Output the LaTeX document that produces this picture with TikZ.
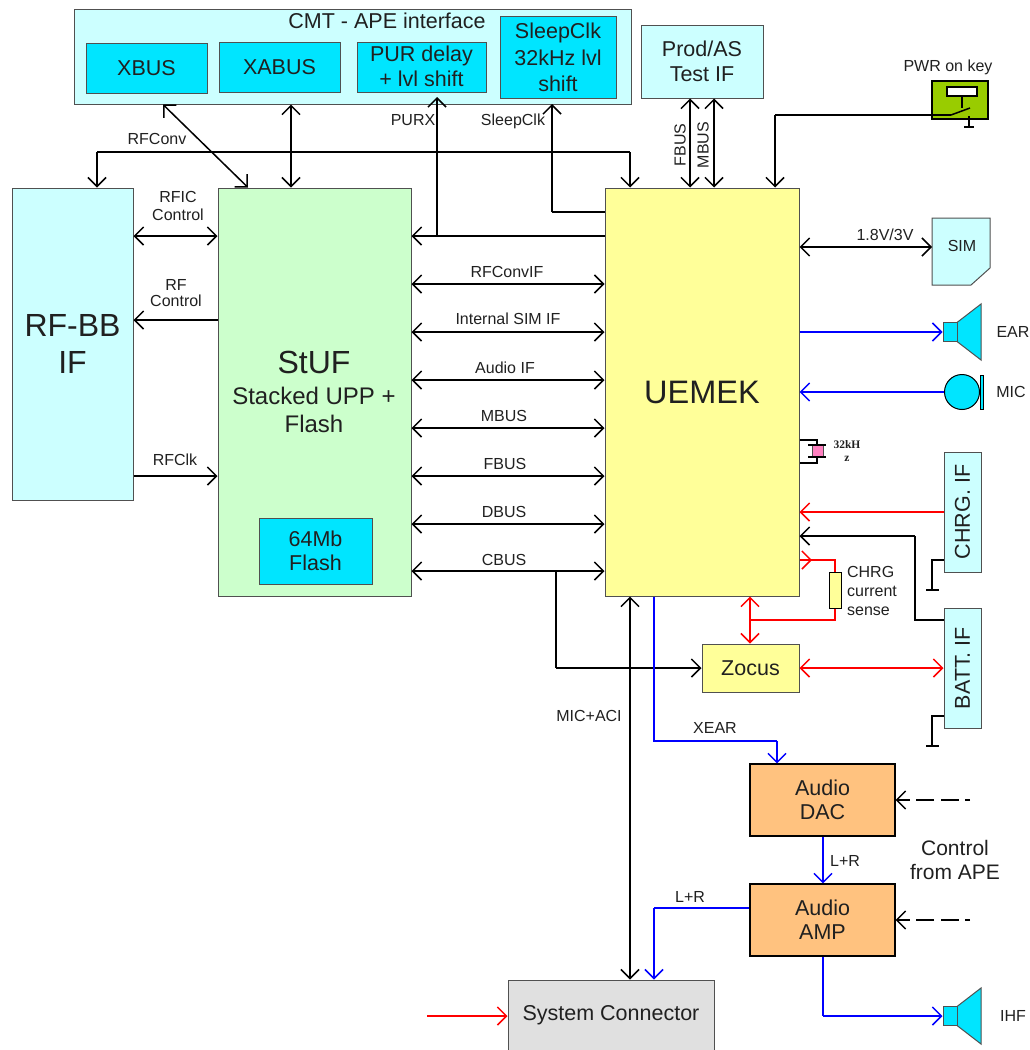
\documentclass[tikz,border=0pt]{standalone}
\usepackage{fontspec}
\setmainfont{Liberation Sans}
\usetikzlibrary{arrows.meta,calc}
\definecolor{paleC}{HTML}{CCFFFF}
\definecolor{cyanB}{HTML}{00E5FF}
\definecolor{paleG}{HTML}{CCFFCC}
\definecolor{paleY}{HTML}{FFFF99}
\definecolor{orng}{HTML}{FFC27F}
\definecolor{greyB}{HTML}{E0E0E0}
\definecolor{keyG}{HTML}{99CC00}
\definecolor{bord}{HTML}{505050}
\definecolor{pinkB}{HTML}{FF80C0}
\definecolor{txt}{HTML}{202020}
\newcommand{\fs}[1]{\fontsize{#1}{\fpeval{1.17*#1}}\selectfont}
\tikzset{
  x=1pt,y=-1pt,
  tipa/.tip={Straight Barb[length=9pt,width=18pt,line width=1.5pt]},
  wire/.style={line width=1.5pt,black,arrows={-},line join=miter},
  dbl/.style={wire,{tipa}-{tipa},shorten <=0pt,shorten >=0pt},
  one/.style={wire,-{tipa}},
  rwire/.style={wire,red},
  bwire/.style={wire,blue},
  ctrl/.style={wire,-{tipa},line width=2.5pt,dash pattern=on 5pt off 6.5pt on 18pt off 6.5pt on 18pt off 6.5pt on 20pt off 100pt},
  box/.style={draw=bord,line width=1pt,inner sep=0pt,align=center,text=txt},
  lbl/.style={text=txt,align=center,inner sep=0pt,font=\fs{16}},
}
% name, options, x0, y0, x1, y1, text
\newcommand{\bx}[7]{%
  \pgfmathsetmacro{\bw}{#5-#3}\pgfmathsetmacro{\bh}{#6-#4}%
  \pgfmathsetmacro{\bcx}{(#3+#5)/2}\pgfmathsetmacro{\bcy}{(#4+#6)/2}%
  \node[box,minimum width=\bw pt,minimum height=\bh pt,#2] (#1) at (\bcx,\bcy) {#7};}
\begin{document}
\begin{tikzpicture}
\useasboundingbox (0,0) rectangle (1029,1050);
% --- boxes
\bx{cmt}{fill=paleC}{74}{9}{631}{104}{}
\node[lbl,font=\fs{21.5}] (cmtl) at (387,21) {CMT - APE interface};
\bx{xbus}{fill=cyanB,font=\fs{21.5}}{86}{43}{207}{93}{XBUS}
\bx{xabus}{fill=cyanB,font=\fs{21.5}}{219}{42}{340}{92}{XABUS}
\bx{pur}{fill=cyanB,font=\fs{21.5}}{357}{42}{486}{92}{\raisebox{2pt}{PUR delay}\\\raisebox{2pt}{+ lvl shift}}
\bx{sleep}{fill=cyanB,font=\fs{21.5}}{500}{16}{616}{98}{\raisebox{3pt}{SleepClk}\\\raisebox{1pt}{32kHz lvl}\\shift}
\bx{prod}{fill=paleC,font=\fs{21.5}}{641}{25}{763}{98}{Prod/AS\\Test IF}
\bx{rfbb}{fill=paleC,font=\fs{32}}{12}{188}{133}{500}{RF-BB\\IF}
\bx{stuf}{fill=paleG}{218}{188}{411}{596}{}
\node[lbl,font=\fs{32}] (stufl) at (314,362) {StUF};
\node[lbl,font=\fs{24}] (stufs) at (314,410) {Stacked UPP +\\Flash};
\bx{flash}{fill=cyanB,font=\fs{21.5}}{259}{518}{372}{584}{64Mb\\[-1pt]Flash}
\bx{uemek}{fill=paleY,font=\fs{32.5}}{605}{188}{799}{596}{UEMEK}
\bx{zocus}{fill=paleY,font=\fs{21.5}}{702}{644}{799}{692}{Zocus}
\bx{dac}{fill=orng,line width=1.2pt,draw=black,font=\fs{21.5}}{750}{764}{895}{836}{Audio\\[-1pt]DAC}
\bx{amp}{fill=orng,line width=1.2pt,draw=black,font=\fs{21.5}}{750}{884}{895}{956}{Audio\\[-1pt]AMP}
\bx{syscon}{fill=greyB,font=\fs{21.5}}{508}{980}{714}{1050}{\raisebox{-3pt}{System Connector}}
\bx{chrg}{fill=paleC}{944}{452}{981}{572}{\rotatebox{90}{\fs{21.5}CHRG. IF}}
\bx{batt}{fill=paleC}{944}{608}{981}{728}{\rotatebox{90}{\fs{21.5}BATT. IF}}
\bx{res}{fill=paleY,draw=black}{829}{572}{841}{608}{}
% SIM
\draw[fill=paleC,draw=bord,line width=1pt] (932,218) -- (990,218) -- (990,268) -- (971,285) -- (932,285) -- cycle;
\node[lbl,font=\fs{16}] (sim) at (962,246) {SIM};
\coordinate (simw) at (932,247);
% EAR + IHF speakers
\foreach \n/\y in {ear/332,ihf/1016}{
  \draw[fill=cyanB,draw=bord,line width=1pt] (957,\y-9.5) -- (981,\y-28) -- (981,\y+28) -- (957,\y+9.5) -- cycle;
  \node[draw=bord,fill=cyanB,line width=1pt,minimum width=14pt,minimum height=19pt,inner sep=0pt] (\n) at (950,\y) {};
}
% MIC
\node[circle,draw=black,fill=cyanB,line width=1pt,minimum size=35pt,inner sep=0pt] (mic) at (962,392) {};
\node[draw=black,fill=cyanB,line width=1pt,minimum width=3.5pt,minimum height=34pt,inner sep=0pt] (micb) at (982,392) {};
% key
\bx{key}{fill=keyG,draw=black,line width=1.5pt}{932}{81}{988}{119}{}
\bx{plunger}{fill=white,draw=black,line width=1.5pt}{947}{87}{977}{96}{}
\draw[wire] (plunger.south) -- (962,108);
\draw[wire] (951,115) -- (970,108);
\draw[wire] (969,116) -- (969,127) (964,127) -- (974,127);
% crystal
\draw[line width=1.2pt] (uemek.east |- 0,440) -- (817,440) -- (817,445);
\draw[line width=1.2pt] (817,457) -- (817,463) -- (uemek.east |- 0,463);
\node[fill=pinkB,draw=bord,line width=.8pt,minimum width=11pt,minimum height=11pt,inner sep=0pt] (xtal) at (817.5,451) {};
\draw[line width=1.2pt] (808,445) -- (826,445) (808,457) -- (826,457);
% --- top connectors
\draw[dbl] (cmt.south -| 163,0) -- (stuf.north -| 248,0);
\draw[dbl] (cmt.south -| 291,0) -- (stuf.north -| 291,0);
\draw[wire] (97,152) -- (630,152);
\draw[one] (97,152) -- (rfbb.north -| 97,0);
\draw[one] (630,152) -- (uemek.north -| 630,0);
\draw[wire] (uemek.west |- 0,236) -- (437,236);
\draw[one] (437,236) -- (stuf.east |- 0,236);
\draw[one] (437,236) -- (437,97);
\draw[wire] (uemek.west |- 0,212) -- (552,212);
\draw[one] (552,212) -- (552,104);
\draw[dbl] (prod.south -| 690,0) -- (uemek.north -| 690,0);
\draw[dbl] (prod.south -| 714,0) -- (uemek.north -| 714,0);
\draw[wire] (928,115) -- (951,115);
\draw[wire] (928,115) -- (775,115);
\draw[one] (775,115) -- (uemek.north -| 775,0);
% --- RF side
\draw[dbl] (rfbb.east |- 0,236) -- (stuf.west |- 0,236);
\draw[one] (stuf.west |- 0,320) -- (rfbb.east |- 0,320);
\draw[one] (rfbb.east |- 0,476) -- (stuf.west |- 0,476);
% --- buses
\foreach \y in {284,332,380,428,476,524,571}{
  \draw[dbl] (stuf.east |- 0,\y) -- (uemek.west |- 0,\y);
}
% --- right side
\draw[dbl] (uemek.east |- 0,247) -- (simw);
\draw[bwire,-{tipa}] (uemek.east |- 0,332) -- (ear.west);
\draw[bwire,-{tipa}] (mic.west) -- (uemek.east |- 0,392);
\draw[rwire,-{tipa}] (chrg.west |- 0,512) -- (uemek.east |- 0,512);
\draw[wire] (batt.west |- 0,620) -- (915,620) -- (915,536);
\draw[one] (915,536) -- (uemek.east |- 0,536);
\draw[rwire] (uemek.east |- 0,560) -- (835,560) -- (res.north);
\draw[rwire,-{tipa}] (uemek.east |- 0,560) -- (812,560);
\draw[rwire] (res.south) -- (835,620) -- (750,620);
\draw[rwire,{tipa}-{tipa}] (uemek.south -| 750,0) -- (zocus.north -| 750,0);
\draw[rwire,{tipa}-{tipa}] (zocus.east) -- (batt.west |- zocus.east);
\draw[wire] (chrg.west |- 0,560) -- (932,560) -- (932,590) (926,590) -- (939,590);
\draw[wire] (batt.west |- 0,716) -- (932,716) -- (932,746) (926,746) -- (939,746);
% --- lower
\draw[wire] (556,571) -- (556,668);
\draw[one] (556,668) -- (zocus.west);
\draw[dbl] (uemek.south -| 630,0) -- (syscon.north -| 630,0);
\draw[bwire] (uemek.south -| 654,0) -- (654,741) -- (777,741);
\draw[bwire,-{tipa}] (777,741) -- (dac.north -| 777,0);
\draw[bwire,-{tipa}] (dac.south -| 823,0) -- (amp.north -| 823,0);
\draw[bwire] (amp.west |- 0,908) -- (654,908);
\draw[bwire,-{tipa}] (654,908) -- (syscon.north -| 654,0);
\draw[bwire] (amp.south -| 823,0) -- (823,1016);
\draw[bwire,-{tipa}] (823,1016) -- (ihf.west);
\coordinate (sysin) at (427,1016);
\draw[rwire,-{tipa}] (sysin) -- (syscon.west |- sysin);
\draw[ctrl] (970,800) -- (dac.east |- 0,800);
\draw[ctrl] (970,920) -- (amp.east |- 0,920);
% --- labels
\node[lbl] (l1) at (157,139) {RFConv};
\node[lbl] (l2) at (178,206) {RFIC\\Control};
\node[lbl] (l3) at (176,293) {RF\\[-2pt]Control};
\node[lbl] (l4) at (175,460) {RFClk};
\node[lbl] (l5) at (413,120) {PURX};
\node[lbl] (l6) at (513,121) {SleepClk};
\node[lbl,rotate=90] (l7) at (680,145) {FBUS};
\node[lbl,rotate=90] (l8) at (703,145) {MBUS};
\node[lbl] (l9) at (885,235) {1.8V/3V};
\node[lbl] (l10) at (1013,332) {EAR};
\node[lbl] (l11) at (1011,392) {MIC};
\node[lbl] (l12) at (1013,1016) {IHF};
\node[lbl] (l13) at (948,67) {PWR on key};
\node[lbl] (l14) at (507,272) {RFConvIF};
\node[lbl] (l15) at (508,319) {Internal SIM IF};
\node[lbl] (l16) at (505,368) {Audio IF};
\node[lbl] (l17) at (504,416) {MBUS};
\node[lbl] (l18) at (505,464) {FBUS};
\node[lbl] (l19) at (504,512) {DBUS};
\node[lbl] (l20) at (504,560) {CBUS};
\node[lbl,align=left] (l21) at (872,591) {CHRG\\current\\sense};
\node[lbl] (l22) at (589,716) {MIC+ACI};
\node[lbl] (l23) at (715,728) {XEAR};
\node[lbl] (l24) at (845,861) {L+R};
\node[lbl] (l25) at (690,897) {L+R};
\node[lbl,font=\fs{21}] (l26) at (955,860) {Control\\from APE};
\node[text=txt,inner sep=0pt,font={\fontspec{Liberation Serif}\bfseries\fs{11.5}}] (l27) at (847,445) {32kH};
\node[text=txt,inner sep=0pt,font={\fontspec{Liberation Serif}\bfseries\fs{11.5}}] (l28) at (847,459) {z};
\end{tikzpicture}
\end{document}
